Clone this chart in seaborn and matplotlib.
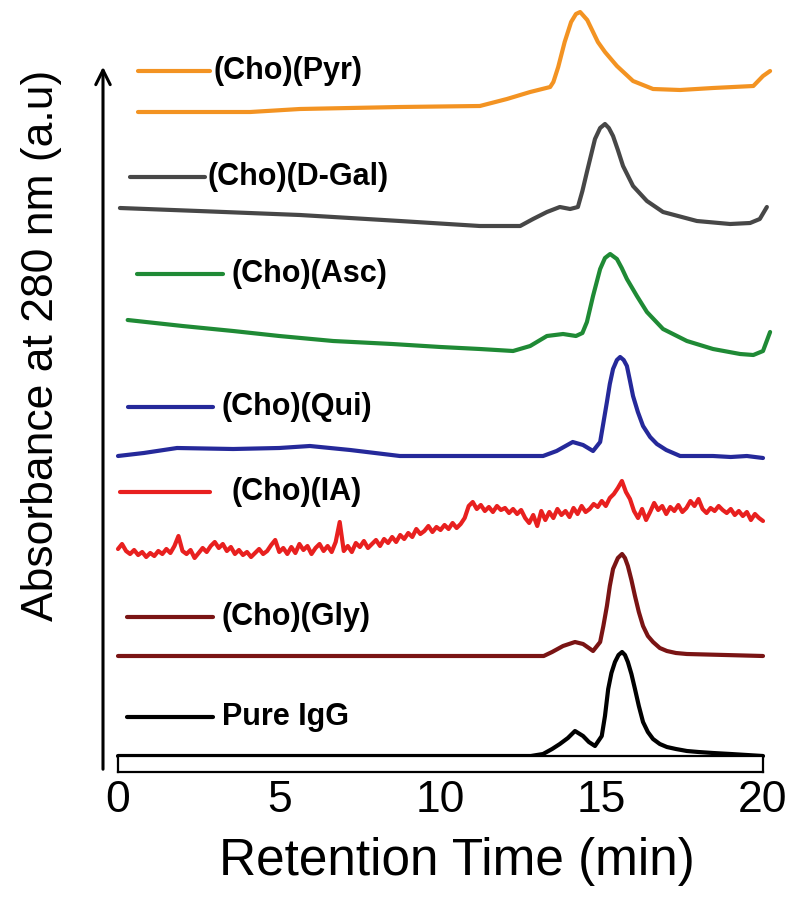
import numpy as np
import pandas as pd
import matplotlib
matplotlib.use('Agg')
import matplotlib.pyplot as plt
import seaborn as sns

sns.set_style('white')
plt.rcParams['font.family'] = ['Liberation Sans', 'DejaVu Sans']
plt.rcParams['text.color'] = 'black'
plt.rcParams['xtick.color'] = 'black'

# chromatogram traces, absorbance (a.u., above each trace's own baseline)
names = ['Pure IgG', '(Cho)(Gly)', '(Cho)(IA)', '(Cho)(Qui)', '(Cho)(Asc)', '(Cho)(D-Gal)', '(Cho)(Pyr)']
colors = ['#000000', '#7a1414', '#e8201f', '#25299a', '#1f8a35', '#474747', '#f39322']
offsets = [0.0, 1.0, 2.0, 3.0, 4.0, 5.30, 6.44]

igg_t = [0, 12.8, 13.18, 13.46, 13.7, 13.95, 14.17, 14.42, 14.6, 14.79, 15.0, 15.1, 15.2, 15.3, 15.41,
         15.52, 15.63, 15.72, 15.81, 15.92, 16.03, 16.15, 16.28, 16.43, 16.59, 16.8, 17.02, 17.3, 17.64,
         18.0, 18.45, 19.0, 19.5, 20]
igg_v = [0, 0, 0.02, 0.07, 0.12, 0.18, 0.25, 0.20, 0.14, 0.10, 0.20, 0.40, 0.67, 0.83, 0.94,
         1.01, 1.04, 1.01, 0.94, 0.82, 0.67, 0.50, 0.34, 0.24, 0.17, 0.12, 0.09, 0.07, 0.05,
         0.04, 0.03, 0.02, 0.01, 0.0]

gly_t = [0, 13.2, 13.46, 13.8, 14.17, 14.42, 14.6, 14.73, 14.95, 15.05, 15.16, 15.25, 15.35, 15.5,
         15.63, 15.72, 15.81, 15.92, 16.03, 16.15, 16.28, 16.43, 16.59, 16.8, 17.02, 17.3, 17.64, 20]
gly_v = [0, 0, 0.04, 0.10, 0.14, 0.12, 0.08, 0.05, 0.14, 0.30, 0.50, 0.70, 0.87, 0.98,
         1.02, 0.98, 0.90, 0.76, 0.60, 0.44, 0.30, 0.20, 0.14, 0.08, 0.05, 0.03, 0.02, 0]

ia_t = np.linspace(0, 20, 161)
ia_v = [0.07, 0.12, 0.05, 0.02, 0.06, 0.01, 0.04, -0.01,
        0.03, 0.00, 0.05, 0.02, 0.07, 0.03, 0.10, 0.20,
        0.05, 0.02, 0.06, -0.02, 0.03, 0.08, 0.04, 0.10,
        0.14, 0.08, 0.12, 0.05, 0.09, 0.02, 0.06, 0.01,
        0.04, -0.01, 0.03, 0.07, 0.02, 0.05, 0.11, 0.16,
        0.04, 0.08, 0.02, 0.09, 0.03, 0.12, 0.06, 0.10,
        0.02, 0.08, 0.12, 0.05, 0.10, 0.04, 0.14, 0.34,
        0.05, 0.10, 0.04, 0.13, 0.09, 0.15, 0.08, 0.12,
        0.16, 0.10, 0.17, 0.13, 0.19, 0.14, 0.21, 0.17,
        0.23, 0.19, 0.27, 0.22, 0.25, 0.30, 0.24, 0.29,
        0.26, 0.31, 0.27, 0.33, 0.28, 0.32, 0.38, 0.50,
        0.54, 0.47, 0.51, 0.45, 0.49, 0.44, 0.50, 0.46,
        0.48, 0.43, 0.47, 0.42, 0.46, 0.38, 0.33, 0.41,
        0.30, 0.45, 0.36, 0.44, 0.38, 0.47, 0.41, 0.45,
        0.39, 0.48, 0.42, 0.50, 0.44, 0.47, 0.52, 0.49,
        0.55, 0.50, 0.58, 0.62, 0.68, 0.75, 0.64, 0.57,
        0.45, 0.38, 0.47, 0.36, 0.44, 0.53, 0.46, 0.50,
        0.42, 0.49, 0.45, 0.51, 0.44, 0.48, 0.55, 0.50,
        0.57, 0.47, 0.43, 0.48, 0.45, 0.50, 0.46, 0.43,
        0.47, 0.41, 0.45, 0.40, 0.44, 0.36, 0.42, 0.38,
        0.35]

qui_t = [0, 0.8, 1.83, 3.57, 5.0, 5.95, 7.2, 8.74, 11.8, 13.18, 13.6, 14.1, 14.42, 14.73, 14.95,
         15.05, 15.16, 15.25, 15.35, 15.47, 15.57, 15.68, 15.78, 15.87, 15.97, 16.12, 16.28, 16.5,
         16.71, 17.0, 17.43, 18.45, 19.0, 19.5, 20]
qui_v = [0, 0.03, 0.08, 0.07, 0.08, 0.10, 0.06, 0.0, 0.0, 0.0, 0.05, 0.14, 0.11, 0.05, 0.14,
         0.33, 0.54, 0.72, 0.87, 0.96, 0.99, 0.96, 0.90, 0.76, 0.60, 0.44, 0.30, 0.19,
         0.12, 0.06, 0.0, 0.0, -0.01, 0.0, -0.02]

asc_t = [0.3, 2.0, 3.57, 5.0, 6.67, 8.5, 10.0, 11.22, 12.25, 12.78, 13.3, 13.8, 14.2, 14.4, 14.54, 14.73,
         14.95, 15.1, 15.26, 15.47, 15.62, 15.78, 16.09, 16.4, 16.9, 17.64, 18.45, 19.29, 19.7, 20.0, 20.22]
asc_v = [0.36, 0.30, 0.25, 0.20, 0.15, 0.12, 0.09, 0.07, 0.05, 0.10, 0.20, 0.22, 0.20, 0.23, 0.34, 0.60,
         0.87, 0.98, 1.02, 0.97, 0.88, 0.77, 0.60, 0.44, 0.27, 0.15, 0.07, 0.02, 0.01, 0.05, 0.24]

gal_t = [0.06, 2.5, 5.64, 8.74, 11.22, 12.47, 12.87, 13.3, 13.7, 14.02, 14.26, 14.4, 14.54, 14.79,
         14.95, 15.1, 15.22, 15.35, 15.5, 15.66, 15.97, 16.4, 16.9, 17.95, 18.98, 19.6, 19.9, 20.12]
gal_v = [0.18, 0.15, 0.11, 0.05, 0.0, 0.0, 0.07, 0.14, 0.19, 0.17, 0.19, 0.35, 0.54, 0.87,
         0.98, 1.02, 0.98, 0.90, 0.76, 0.60, 0.40, 0.25, 0.14, 0.05, 0.02, 0.03, 0.07, 0.19]

pyr_t = [0.62, 2.5, 4.1, 5.64, 8.74, 11.22, 12.06, 12.78, 13.4, 13.5, 13.65, 13.85, 14.05, 14.2, 14.33,
         14.55, 14.88, 15.1, 15.47, 15.97, 16.59, 17.43, 18.45, 19.7, 20.0, 20.22]
pyr_v = [0.0, 0.0, 0.0, 0.03, 0.05, 0.06, 0.13, 0.20, 0.25, 0.30, 0.45, 0.70, 0.90, 0.98, 1.00,
         0.92, 0.70, 0.60, 0.46, 0.31, 0.23, 0.22, 0.24, 0.26, 0.36, 0.41]

times = [igg_t, gly_t, ia_t, qui_t, asc_t, gal_t, pyr_t]
values = [igg_v, gly_v, ia_v, qui_v, asc_v, gal_v, pyr_v]

frames = []
for name, t, v, off in zip(names, times, values, offsets):
    frames.append(pd.DataFrame({'trace': name, 'time': t, 'absorbance': np.array(v) + off}))
df = pd.concat(frames, ignore_index=True)

# label placement: (line start, line end, text start) in minutes, y in a.u.
label_x = [(0.28, 2.95, 3.22), (0.28, 2.95, 3.22), (0.06, 2.85, 3.53), (0.31, 2.95, 3.22),
           (0.59, 3.26, 3.53), (0.37, 2.70, 2.79), (0.62, 2.85, 2.95)]
label_y = [0.39, 1.39, 2.64, 3.49, 4.82, 5.79, 6.85]

W, H = 800, 917
fig = plt.figure(figsize=(W / 100, H / 100), dpi=100)
ax = fig.add_axes([118 / W, 1 - 756 / H, 645 / W, 756 / H])
axb = fig.add_axes([118 / W, 1 - 772 / H, 645 / W, 16 / H], sharex=ax)

sns.lineplot(data=df, x='time', y='absorbance', hue='trace', palette=dict(zip(names, colors)),
             estimator=None, sort=False, lw=3, legend=False, ax=ax)
for line in ax.lines:
    line.set_clip_on(False)
    line.set_solid_joinstyle('round')

for name, col, (x0, x1, xt), y in zip(names, colors, label_x, label_y):
    ax.plot([x0, x1], [y, y], color=col, lw=3, solid_capstyle='round', clip_on=False)
    ax.text(xt, y, name, ha='left', va='center', fontsize=22, fontweight='bold')

ax.set_xlim(0, 20)
ax.set_ylim(0, 7.56)
ax.set_axis_off()

axb.set_ylim(0, 1)
axb.set_yticks([])
axb.set_xticks([0, 5, 10, 15, 20])
axb.set_xticks([2.5, 7.5, 12.5, 17.5], minor=True)
axb.tick_params(axis='x', which='major', direction='in', length=11, width=1.5, labelsize=32, pad=6)
axb.tick_params(axis='x', which='minor', direction='in', length=5.5, width=1.5)
for sp in axb.spines.values():
    sp.set_linewidth(1.6)
    sp.set_color('black')

ax.annotate('', xy=(103 / W, 1 - 64 / H), xytext=(103 / W, 1 - 772 / H),
            xycoords='figure fraction', textcoords='figure fraction',
            arrowprops=dict(arrowstyle='->', lw=2.2, color='black', mutation_scale=26))

fig.text(42 / W, 1 - 345 / H, 'Absorbance at 280 nm (a.u)', rotation=90,
         ha='center', va='center', fontsize=32)
fig.text(457 / W, 1 - 862 / H, 'Retention Time (min)', ha='center', va='center', fontsize=37)

fig.savefig('out.png', dpi=100)
